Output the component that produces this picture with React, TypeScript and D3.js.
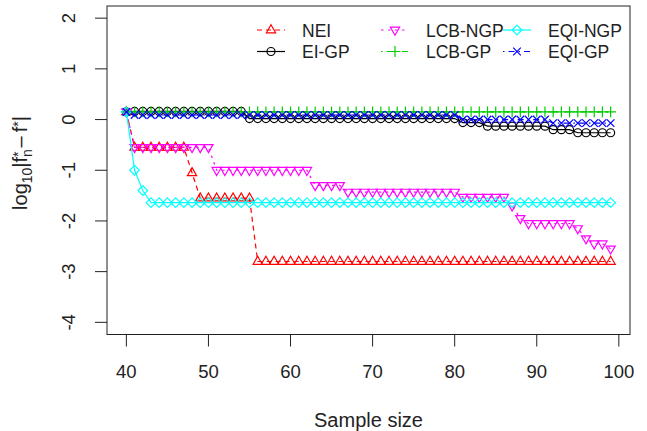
import React from "react";
import * as d3 from "d3";

const sampleSizes = [
  40, 41, 42, 43, 44, 45, 46, 47, 48, 49,
  50, 51, 52, 53, 54, 55, 56, 57, 58, 59,
  60, 61, 62, 63, 64, 65, 66, 67, 68, 69,
  70, 71, 72, 73, 74, 75, 76, 77, 78, 79,
  80, 81, 82, 83, 84, 85, 86, 87, 88, 89,
  90, 91, 92, 93, 94, 95, 96, 97, 98, 99,
];

const nei = [
  0.15, -0.55, -0.55, -0.55, -0.55, -0.55, -0.55, -0.55, -1.05, -1.55,
  -1.55, -1.55, -1.55, -1.55, -1.55, -1.55, -2.8, -2.8, -2.8, -2.8,
  -2.8, -2.8, -2.8, -2.8, -2.8, -2.8, -2.8, -2.8, -2.8, -2.8,
  -2.8, -2.8, -2.8, -2.8, -2.8, -2.8, -2.8, -2.8, -2.8, -2.8,
  -2.8, -2.8, -2.8, -2.8, -2.8, -2.8, -2.8, -2.8, -2.8, -2.8,
  -2.8, -2.8, -2.8, -2.8, -2.8, -2.8, -2.8, -2.8, -2.8, -2.8,
];

const eiGp = [
  0.15, 0.16, 0.16, 0.16, 0.16, 0.16, 0.16, 0.16, 0.16, 0.16,
  0.16, 0.16, 0.16, 0.16, 0.16, 0.02, 0.02, 0.02, 0.02, 0.02,
  0.02, 0.02, 0.02, 0.02, 0.02, 0.02, 0.02, 0.02, 0.02, 0.02,
  0.02, 0.02, 0.02, 0.02, 0.02, 0.02, 0.02, 0.02, 0.02, 0.02,
  0.02, -0.06, -0.06, -0.06, -0.13, -0.13, -0.13, -0.13, -0.13, -0.13,
  -0.13, -0.13, -0.2, -0.2, -0.2, -0.26, -0.26, -0.26, -0.26, -0.26,
];

const lcbNgp = [
  0.15, -0.55, -0.55, -0.55, -0.55, -0.55, -0.55, -0.55, -0.55, -0.55,
  -0.55, -1.0, -1.0, -1.0, -1.0, -1.0, -1.0, -1.0, -1.0, -1.0,
  -1.0, -1.0, -1.0, -1.3, -1.3, -1.3, -1.3, -1.43, -1.43, -1.43,
  -1.43, -1.43, -1.43, -1.43, -1.43, -1.43, -1.43, -1.43, -1.43, -1.43,
  -1.43, -1.53, -1.53, -1.53, -1.53, -1.53, -1.53, -1.7, -1.95, -2.05,
  -2.05, -2.05, -2.05, -2.05, -2.05, -2.15, -2.35, -2.45, -2.45, -2.55,
];

const lcbGp = [
  0.15, 0.15, 0.15, 0.15, 0.15, 0.15, 0.15, 0.15, 0.15, 0.15,
  0.15, 0.15, 0.15, 0.15, 0.15, 0.15, 0.15, 0.15, 0.15, 0.15,
  0.15, 0.15, 0.15, 0.15, 0.15, 0.15, 0.15, 0.15, 0.15, 0.15,
  0.15, 0.15, 0.15, 0.15, 0.15, 0.15, 0.15, 0.15, 0.15, 0.15,
  0.15, 0.15, 0.15, 0.15, 0.15, 0.15, 0.15, 0.15, 0.15, 0.15,
  0.15, 0.15, 0.15, 0.15, 0.15, 0.15, 0.15, 0.15, 0.15, 0.15,
];

const eqiNgp = [
  0.15, -1.0, -1.4, -1.64, -1.64, -1.64, -1.64, -1.64, -1.64, -1.64,
  -1.64, -1.64, -1.64, -1.64, -1.64, -1.64, -1.64, -1.64, -1.64, -1.64,
  -1.64, -1.64, -1.64, -1.64, -1.64, -1.64, -1.64, -1.64, -1.64, -1.64,
  -1.64, -1.64, -1.64, -1.64, -1.64, -1.64, -1.64, -1.64, -1.64, -1.64,
  -1.64, -1.64, -1.64, -1.64, -1.64, -1.64, -1.64, -1.64, -1.64, -1.64,
  -1.64, -1.64, -1.64, -1.64, -1.64, -1.64, -1.64, -1.64, -1.64, -1.64,
];

const eqiGp = [
  0.15, 0.09, 0.09, 0.09, 0.09, 0.09, 0.09, 0.09, 0.09, 0.09,
  0.09, 0.09, 0.09, 0.09, 0.09, 0.09, 0.09, 0.09, 0.09, 0.09,
  0.09, 0.09, 0.09, 0.09, 0.09, 0.09, 0.09, 0.09, 0.09, 0.09,
  0.09, 0.09, 0.09, 0.09, 0.09, 0.09, 0.09, 0.09, 0.09, 0.09,
  0.09, 0.0, 0.0, 0.0, 0.0, 0.0, 0.0, 0.0, 0.0, 0.0,
  0.0, 0.0, -0.07, -0.07, -0.07, -0.07, -0.07, -0.07, -0.07, -0.07,
];

const xTicks = [40, 50, 60, 70, 80, 90, 100];
const yTicks = [-4, -3, -2, -1, 0, 1, 2];

type Shape = "triUp" | "circle" | "triDown" | "plus" | "diamond" | "cross";

const seriesNames = ["NEI", "EI-GP", "LCB-NGP", "LCB-GP", "EQI-NGP", "EQI-GP"];
const seriesValues = [nei, eiGp, lcbNgp, lcbGp, eqiNgp, eqiGp];
const seriesColors = ["#FF0000", "#000000", "#FF00FF", "#00CD00", "#00FFFF", "#0000FF"];
const seriesShapes: Shape[] = ["triUp", "circle", "triDown", "plus", "diamond", "cross"];
const seriesDash = ["5,4", "", "2.5,4.5", "1.5,4,6,4", "", "1.5,4,6,4"];

const FONT = "'Liberation Sans', Arial, Helvetica, sans-serif";

function Marker({ shape, x, y, color }: { shape: Shape; x: number; y: number; color: string }) {
  const common = { fill: "none", stroke: color, strokeWidth: 1.2 };
  switch (shape) {
    case "circle":
      return <circle cx={x} cy={y} r={4} {...common} />;
    case "triUp":
      return <path d={`M${x},${y - 5.2}L${x + 4.6},${y + 2.8}L${x - 4.6},${y + 2.8}Z`} {...common} />;
    case "triDown":
      return <path d={`M${x},${y + 5.2}L${x + 4.6},${y - 2.8}L${x - 4.6},${y - 2.8}Z`} {...common} />;
    case "diamond":
      return <path d={`M${x},${y - 4.8}L${x + 4.8},${y}L${x},${y + 4.8}L${x - 4.8},${y}Z`} {...common} />;
    case "plus":
      return <path d={`M${x - 5.4},${y}L${x + 5.4},${y}M${x},${y - 5.4}L${x},${y + 5.4}`} {...common} />;
    case "cross":
      return <path d={`M${x - 3.8},${y - 3.8}L${x + 3.8},${y + 3.8}M${x - 3.8},${y + 3.8}L${x + 3.8},${y - 3.8}`} {...common} />;
  }
}

export default function App() {
  const W = 647;
  const H = 431;
  const left = 107, right = 630, top = 6, bottom = 334.5;

  const x = d3.scaleLinear().domain([37.64, 101.36]).range([left, right]);
  const y = d3.scaleLinear().domain([-4.24, 2.24]).range([bottom, top]);

  const line = d3
    .line<number>()
    .x((_, i) => x(sampleSizes[i]))
    .y((d) => y(d));

  const legendCols = [257, 381, 503];
  const legendRows = [30, 51.5];
  const legendBase = [36.7, 58.3];

  return (
    <svg
      width={W}
      height={H}
      style={{ position: "absolute", left: 0, top: 0, background: "#fff" }}
      fontFamily={FONT}
    >
      <rect x={0} y={0} width={W} height={H} fill="#fff" />
      {/* series */}
      {seriesValues.map((vals, si) => (
        <g key={seriesNames[si]}>
          <path
            d={line(vals) || ""}
            fill="none"
            stroke={seriesColors[si]}
            strokeWidth={1.2}
            strokeDasharray={seriesDash[si] || undefined}
          />
          {vals.map((v, i) => (
            <Marker key={i} shape={seriesShapes[si]} x={x(sampleSizes[i])} y={y(v)} color={seriesColors[si]} />
          ))}
        </g>
      ))}

      {/* box */}
      <rect x={left} y={top} width={right - left} height={bottom - top} fill="none" stroke="#222" strokeWidth={1} />

      {/* x axis */}
      {xTicks.map((t) => (
        <g key={t}>
          <line x1={x(t)} x2={x(t)} y1={bottom} y2={bottom + 12} stroke="#222" strokeWidth={1} />
          <text x={x(t)} y={378} fontSize={18.5} textAnchor="middle" fill="#222">
            {t}
          </text>
        </g>
      ))}
      <text x={(left + right) / 2} y={426.5} fontSize={20} textAnchor="middle" fill="#222">
        Sample size
      </text>

      {/* y axis */}
      {yTicks.map((t) => (
        <g key={t}>
          <line x1={left - 12} x2={left} y1={y(t)} y2={y(t)} stroke="#222" strokeWidth={1} />
          <text
            x={75}
            y={y(t)}
            fontSize={18.5}
            textAnchor="middle"
            fill="#222"
            transform={`rotate(-90, 75, ${y(t)})`}
          >
            {t}
          </text>
        </g>
      ))}
      <g transform="translate(27,163) rotate(-90)">
        <text x={0} y={0} fontSize={20} textAnchor="middle" fill="#222">
          log
          <tspan fontSize={14} dy={5}>10</tspan>
          <tspan fontSize={20} dy={-5}>|f</tspan>
          <tspan fontSize={14} dy={5}>n</tspan>
          <tspan fontSize={14} dx={-7.8} dy={-9}>*</tspan>
          <tspan fontSize={20} dy={4}>{"\u2009\u2013\u2009f"}</tspan>
          <tspan fontSize={14} dy={-4}>*</tspan>
          <tspan fontSize={20} dy={4}>|</tspan>
        </text>
      </g>

      {/* legend */}
      {seriesNames.map((name, si) => {
        const col = Math.floor(si / 2);
        const row = si % 2;
        const x0 = legendCols[col];
        const yy = legendRows[row];
        return (
          <g key={name}>
            <line
              x1={x0}
              x2={x0 + 28}
              y1={yy}
              y2={yy}
              stroke={seriesColors[si]}
              strokeWidth={1.2}
              strokeDasharray={seriesDash[si] || undefined}
            />
            <Marker shape={seriesShapes[si]} x={x0 + 14} y={yy} color={seriesColors[si]} />
            <text x={x0 + 45} y={legendBase[row]} fontSize={17.5} fill="#222">
              {name}
            </text>
          </g>
        );
      })}
    </svg>
  );
}
